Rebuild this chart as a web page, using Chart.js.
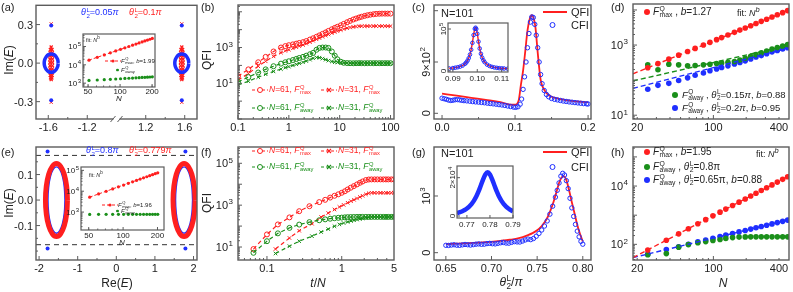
<!DOCTYPE html>
<html><head><meta charset="utf-8">
<script src="https://cdn.jsdelivr.net/npm/chart.js@4.4.1/dist/chart.umd.min.js"></script>
<style>
html,body{margin:0;padding:0;background:#fff}
body{width:793px;height:292px;position:relative;overflow:hidden;font-family:Arial,"Liberation Sans",sans-serif;color:#222}
canvas{position:absolute;left:0;top:0}
.t{position:absolute;white-space:nowrap;line-height:1}
.ss{display:inline-block;vertical-align:middle;font-size:0.68em;line-height:0.95;text-align:left;margin-left:0.5px}
.ss b{display:block;font-weight:normal}
</style></head><body>
<script>
// ---- data ----
// (a) eigenvalues, theta=0.05pi ring (blue) and 0.1pi bar (red)
const aRingLx = [-1.498, -1.5035, -1.519, -1.5424, -1.57, -1.5976, -1.621, -1.6365, -1.642, -1.6365, -1.621, -1.5976, -1.57, -1.5424, -1.519, -1.5035, -1.498];
const aRingRx = [1.642, 1.6365, 1.621, 1.5976, 1.57, 1.5424, 1.519, 1.5035, 1.498, 1.5035, 1.519, 1.5424, 1.57, 1.5976, 1.621, 1.6365, 1.642];
const aRingY = [0, 0.027, 0.05, 0.066, 0.071, 0.066, 0.05, 0.027, 0, -0.027, -0.05, -0.066, -0.071, -0.066, -0.05, -0.027, 0];
const aBarY = [0.125, 0.105, 0.105, 0.08, 0.08, 0.055, 0.055, 0.03, 0.03, 0.005, 0.005, -0.02, -0.02, -0.045, -0.045, -0.07, -0.07, -0.095, -0.095, -0.115, -0.115, -0.128];
const aBarLx = [-1.57, -1.578, -1.562, -1.581, -1.559, -1.582, -1.558, -1.582, -1.558, -1.582, -1.558, -1.582, -1.558, -1.582, -1.558, -1.581, -1.559, -1.579, -1.561, -1.576, -1.564, -1.57];
const aBarRx = [1.57, 1.562, 1.578, 1.559, 1.581, 1.558, 1.582, 1.558, 1.582, 1.558, 1.582, 1.558, 1.582, 1.558, 1.582, 1.559, 1.581, 1.561, 1.579, 1.564, 1.576, 1.57];
const aIsoX = [-1.57, -1.57, 1.57, 1.57];
const aIsoBy = [0.293, -0.29, 0.293, -0.29];
const aIsoRy = [0.306, -0.305, 0.306, -0.305];
// insets (a),(e): N scan
const insN = [51, 61, 71, 81, 91, 101, 111, 121, 131, 141, 151, 161, 171, 181, 191, 201];
const aInsMax = [18000, 25700, 34700, 45200, 56900, 70200, 84600, 100000, 118000, 136000, 156000, 177000, 200000, 223000, 248000, 275000];
const aInsAway = [1400, 1480, 1550, 1620, 1680, 1740, 1800, 1850, 1900, 1950, 2000, 2040, 2080, 2120, 2160, 2200];
const eInsMax = [5200, 7400, 9900, 12900, 16200, 19800, 23900, 28300, 33000, 38200, 43700, 49500, 55700, 62300, 69200, 76400];
const eInsAway = [770, 775, 780, 780, 778, 780, 782, 780, 781, 780, 780, 782, 780, 781, 780, 780];
// (b) QFI vs t
const tB = [0.1, 0.16, 0.25, 0.35, 0.5, 0.7, 0.85, 1, 1.2, 1.4, 1.6, 1.9, 2.2, 2.6, 3, 3.5, 4, 4.6, 5.3, 6, 7, 8, 9, 10.5, 12, 14, 16, 18.5, 21, 24, 27, 31, 35, 40, 46, 52, 60, 68, 78, 88, 100];
const b61max = [25, 60, 150, 300, 600, 1000, 1200, 1350, 1500, 1650, 1800, 2000, 2300, 2800, 3300, 4000, 4800, 5800, 7000, 8500, 10500, 12500, 14500, 17500, 21000, 26000, 31000, 37000, 42000, 48000, 53000, 59000, 64000, 69000, 73000, 76000, 78000, 79000, 79000, 79000, 79000];
const b31max = [15, 35, 90, 170, 320, 520, 650, 760, 900, 1050, 1200, 1400, 1650, 2000, 2400, 2900, 3400, 4000, 4700, 5400, 6400, 7400, 8300, 9600, 10800, 12200, 13300, 14300, 15000, 15500, 15700, 15800, 15800, 15800, 15800, 15800, 15800, 15800, 15800, 15800, 15800];
const b61away = [12, 22, 40, 60, 90, 125, 150, 170, 200, 230, 260, 300, 350, 420, 500, 750, 950, 1000, 1000, 950, 600, 350, 220, 160, 140, 135, 133, 132, 133, 134, 133, 132, 133, 134, 133, 133, 133, 133, 133, 133, 133];
const b31away = [8, 13, 22, 32, 46, 62, 75, 85, 100, 115, 130, 150, 175, 210, 250, 280, 270, 240, 210, 185, 165, 150, 145, 140, 138, 136, 135, 134, 134, 134, 134, 134, 134, 134, 134, 134, 134, 134, 134, 134, 134];
// (c) QFI / CFI vs theta
const cQx = [0, 0.02, 0.04, 0.06, 0.08, 0.095, 0.1, 0.105, 0.108, 0.111, 0.114, 0.117, 0.12, 0.123, 0.126, 0.128, 0.131, 0.135, 0.14, 0.145, 0.15, 0.16, 0.17, 0.18, 0.19, 0.2];
const cQy = [345, 310, 272, 235, 195, 150, 150, 230, 500, 750, 1090, 1450, 1650, 1720, 1640, 1500, 1070, 590, 410, 330, 290, 255, 232, 215, 203, 192];
const cCx = [0, 0.003, 0.006, 0.009, 0.012, 0.015, 0.018, 0.021, 0.024, 0.027, 0.03, 0.034, 0.038, 0.042, 0.046, 0.05, 0.054, 0.058, 0.062, 0.066, 0.07, 0.074, 0.078, 0.082, 0.086, 0.09, 0.094, 0.098, 0.101, 0.104, 0.107, 0.109, 0.111, 0.113, 0.115, 0.117, 0.119, 0.121, 0.123, 0.125, 0.127, 0.129, 0.131, 0.133, 0.135, 0.137, 0.14, 0.143, 0.146, 0.15, 0.154, 0.158, 0.162, 0.166, 0.17, 0.174, 0.178, 0.182, 0.186, 0.19, 0.194, 0.198, 0.2];
const cCy = [265, 255, 245, 232, 225, 230, 238, 240, 236, 228, 222, 218, 212, 205, 200, 196, 190, 185, 178, 172, 166, 160, 152, 146, 138, 128, 118, 108, 105, 115, 160, 250, 420, 640, 900, 1150, 1400, 1600, 1690, 1680, 1560, 1370, 1150, 900, 680, 520, 400, 330, 290, 260, 245, 235, 225, 215, 208, 200, 195, 188, 182, 176, 170, 166, 164];
const icX = [0.0885, 0.09, 0.091, 0.092, 0.093, 0.094, 0.095, 0.0955, 0.096, 0.0965, 0.097, 0.0975, 0.098, 0.0985, 0.099, 0.0993, 0.0996, 0.1, 0.1005, 0.101, 0.1015, 0.102, 0.1025, 0.103, 0.104, 0.105, 0.106, 0.107, 0.108, 0.109, 0.11, 0.111, 0.1125];
const icQ = [6400, 7200, 8000, 9200, 10800, 13300, 17500, 20600, 25000, 30900, 39400, 51000, 67300, 86000, 101000, 104000, 101000, 89500, 70500, 54000, 41500, 32300, 26000, 21400, 15600, 12200, 10000, 8700, 7700, 7000, 6500, 6100, 5600];
const icC = [6000, 6900, 7800, 9000, 10500, 13000, 17200, 20300, 24600, 30500, 39000, 50500, 67000, 85500, 100500, 103000, 100000, 88500, 70000, 53500, 41000, 32000, 25700, 21100, 15300, 12000, 9800, 8500, 7500, 6800, 6300, 5900, 5400];
// (d) scaling with N
const dN = [25, 31, 39, 48, 58, 68, 81, 93, 107, 119, 136, 156, 175, 196, 220, 246, 275, 308, 345, 386, 432, 480];
const dMax = [225, 296, 396, 515, 655, 802, 1000, 1193, 1426, 1632, 1933, 2303, 2666, 3077, 3565, 4105, 4732, 5461, 6310, 7278, 8395, 9600];
const dAway15 = [273, 198, 284, 273, 257, 261, 273, 285, 297, 309, 323, 340, 375, 420, 478, 535, 606, 675, 765, 845, 930, 1030];
const dAway20 = [55, 71, 81, 98, 116, 138, 160, 185, 207, 230, 255, 290, 320, 355, 400, 455, 500, 568, 640, 700, 770, 835];
const fitX = [18.3, 494];
const dFitMax = [151, 9950];
const dFitAway15 = [95, 990];
const dFitAway20 = [58, 830];
// (e) eigenvalues theta=0.8pi (blue) and 0.779pi (red)
const eRingLx = [-1.265, -1.287, -1.3485, -1.441, -1.55, -1.659, -1.7515, -1.813, -1.835, -1.813, -1.7515, -1.659, -1.55, -1.441, -1.3485, -1.287, -1.265];
const eRingRx = [2.04, 2.018, 1.9565, 1.864, 1.755, 1.646, 1.5535, 1.492, 1.47, 1.492, 1.5535, 1.646, 1.755, 1.864, 1.9565, 2.018, 2.04];
const eRingY = [0, 0.055, 0.101, 0.132, 0.143, 0.132, 0.101, 0.055, 0, -0.055, -0.101, -0.132, -0.143, -0.132, -0.101, -0.055, 0];
const eInLx = [-1.33, -1.347, -1.394, -1.466, -1.55, -1.634, -1.706, -1.753, -1.77, -1.753, -1.706, -1.634, -1.55, -1.466, -1.394, -1.347, -1.33];
const eInRx = [1.975, 1.958, 1.911, 1.839, 1.755, 1.671, 1.599, 1.552, 1.535, 1.552, 1.599, 1.671, 1.755, 1.839, 1.911, 1.958, 1.975];
const eInY = [0, 0.05, 0.092, 0.12, 0.13, 0.12, 0.092, 0.05, 0, -0.05, -0.092, -0.12, -0.13, -0.12, -0.092, -0.05, 0];
const eDotX = [-1.78, -1.78, 1.79, 1.79];
const eDotY = [0.19, -0.19, 0.19, -0.19];
const eDashX = [-2.08, 2.09];
const eDashHi = [0.175, 0.175];
const eDashLo = [-0.175, -0.175];
// (f) QFI vs t/N
const t61 = [0.066, 0.1, 0.14, 0.2, 0.27, 0.37, 0.5, 0.6, 0.7, 0.8, 0.9, 1, 1.1, 1.2, 1.32, 1.45, 1.6, 1.75, 1.9, 2.1, 2.3, 2.5, 2.75, 3, 3.3, 3.6, 3.9, 4.2, 4.6, 5];
const t31 = [0.13, 0.2, 0.27, 0.4, 0.53, 0.66, 0.8, 0.93, 1.06, 1.2, 1.33, 1.46, 1.6, 1.75, 1.9, 2.1, 2.3, 2.5, 2.75, 3, 3.3, 3.6, 3.9, 4.2, 4.6, 5];
const f61max = [8, 40, 120, 260, 515, 890, 1400, 1800, 2300, 2800, 3300, 3900, 4600, 5600, 6800, 8100, 9800, 11700, 13500, 15800, 16800, 17000, 17000, 17000, 17000, 17000, 17000, 17000, 17000, 17000];
const f31max = [8, 27, 60, 130, 270, 420, 620, 820, 1030, 1300, 1550, 1800, 2100, 2450, 2800, 3300, 3700, 3900, 3900, 3900, 3900, 3900, 3900, 3900, 3900, 3900];
const f61away = [5.3, 19, 45, 82, 118, 155, 190, 210, 225, 238, 248, 255, 262, 267, 270, 272, 274, 275, 275, 275, 275, 275, 275, 275, 275, 275, 275, 275, 275, 275];
const f31away = [4.9, 11, 19, 33, 52, 72, 98, 120, 140, 158, 175, 190, 205, 220, 235, 250, 262, 270, 274, 275, 275, 275, 275, 275, 275, 275];
// (g) QFI / CFI vs theta
const gQx = [0.65, 0.67, 0.69, 0.71, 0.72, 0.73, 0.74, 0.745, 0.75, 0.755, 0.76, 0.764, 0.768, 0.771, 0.774, 0.777, 0.779, 0.782, 0.785, 0.788, 0.791, 0.794, 0.797, 0.8];
const gQy = [150, 165, 182, 210, 228, 255, 310, 345, 395, 470, 580, 720, 900, 1060, 1230, 1330, 1350, 1280, 1100, 890, 690, 490, 330, 200];
const gCx = [0.65, 0.653, 0.656, 0.659, 0.662, 0.665, 0.668, 0.671, 0.674, 0.677, 0.68, 0.683, 0.686, 0.689, 0.692, 0.695, 0.698, 0.701, 0.704, 0.707, 0.71, 0.713, 0.716, 0.719, 0.722, 0.725, 0.728, 0.731, 0.734, 0.737, 0.74, 0.743, 0.746, 0.749, 0.752, 0.755, 0.758, 0.761, 0.764, 0.767, 0.77, 0.772, 0.774, 0.776, 0.778, 0.78, 0.782, 0.784, 0.786, 0.788, 0.79, 0.792, 0.794, 0.796, 0.798, 0.8];
const gCy = [130, 128, 135, 140, 132, 130, 138, 145, 140, 135, 142, 150, 155, 148, 150, 160, 165, 158, 155, 165, 175, 180, 170, 168, 182, 195, 190, 188, 205, 225, 240, 230, 250, 290, 340, 400, 470, 560, 680, 820, 980, 1100, 1230, 1350, 1400, 1370, 1270, 1130, 960, 790, 640, 500, 380, 280, 200, 150];
const igX = [0.7657, 0.767, 0.768, 0.769, 0.77, 0.771, 0.772, 0.773, 0.774, 0.775, 0.776, 0.777, 0.778, 0.779, 0.78, 0.781, 0.782, 0.783, 0.784, 0.785, 0.786, 0.787, 0.788, 0.789, 0.79];
const igQ = [1500, 2000, 2500, 3100, 3900, 4900, 6200, 7900, 10000, 12700, 15800, 19000, 21700, 22800, 21700, 19000, 15800, 12700, 10000, 7900, 6200, 4900, 3900, 3100, 2500];
// (h) scaling with N
const hN = [25, 37, 48, 59, 72, 85, 99, 115, 130, 150, 172, 196, 220, 246, 275, 308, 345, 386, 432, 480];
const hMax = [64, 138, 229, 344, 508, 703, 948, 1273, 1618, 2142, 2801, 3615, 4538, 5636, 7031, 8776, 10940, 13650, 17020, 20940];
const hAway80 = [44, 48, 80, 98, 113, 124, 135, 147, 160, 170, 177, 180, 181, 181, 181, 181, 181, 181, 181, 181];
const hAway65 = [46, 66, 83, 101, 121, 140, 161, 185, 207, 235, 267, 300, 333, 369, 408, 453, 502, 556, 615, 678];
const hFitMax = [35, 22100];
const hFitAway65 = [35, 695];

// ---- helpers ----
const W = 793, H = 292;
const RED = '#ff1f1f', BLUE = '#1f2fff', GREEN = '#1a8f1a', FRAME = '#5c5c5c';
const brk = v => (v < 0 ? v + 0.9 : v - 0.9); // broken x axis of (a)

function pts(xs, ys) { return xs.map((x, i) => ({ x: x, y: ys[i] })); }
function logMinors(lo, hi) {
  const out = [];
  for (let e = -3; e <= 6; e++) for (let k = 2; k <= 9; k++) {
    const v = k * Math.pow(10, e);
    if (v > lo && v < hi) out.push(v);
  }
  return out;
}
function decades(lo, hi) {
  const out = [];
  for (let e = -3; e <= 6; e++) { const v = Math.pow(10, e); if (v >= lo && v <= hi) out.push(v); }
  return out;
}
const openC = c => ({ pointStyle: 'circle', pointRadius: 2.5, pointBackgroundColor: 'rgba(0,0,0,0)', pointBorderColor: c, pointBorderWidth: 1 });
const crossC = c => ({ pointStyle: 'crossRot', pointRadius: 2.5, pointBorderColor: c, pointBorderWidth: 1 });
const dotC = (c, r) => ({ pointStyle: 'circle', pointRadius: r || 2.5, pointBackgroundColor: c, pointBorderColor: c, pointBorderWidth: 0 });
const lineC = (c, w, dash) => ({ showLine: true, borderColor: c, borderWidth: w, borderDash: dash || [] });

function drawLab(ctx, s, x, y, fs, mode) {
  const parts = s.split('^');
  const base = parts[0], sup = parts[1] || '';
  const sf = Math.round(fs * 0.7);
  ctx.font = fs + 'px Arial';
  const wb = ctx.measureText(base).width;
  ctx.font = sf + 'px Arial';
  const ws = sup ? ctx.measureText(sup).width + 0.5 : 0;
  const w = wb + ws;
  let x0, yb;
  if (mode === 'top') { x0 = x - w / 2; yb = y + fs * 0.8; }
  else if (mode === 'right') { x0 = x - w; yb = y + fs * 0.36; }
  else { x0 = x - w / 2; yb = y + fs * 0.36; }
  ctx.textAlign = 'left';
  ctx.textBaseline = 'alphabetic';
  ctx.font = fs + 'px Arial';
  ctx.fillText(base, x0, yb);
  if (sup) { ctx.font = sf + 'px Arial'; ctx.fillText(sup, x0 + wb + 0.5, yb - fs * 0.42); }
}

const decoPlugin = {
  id: 'deco',
  beforeDatasetsDraw(chart, args, o) {
    if (!o.white) return;
    const a = chart.chartArea, ctx = chart.ctx;
    ctx.save();
    ctx.fillStyle = '#fff';
    ctx.fillRect(a.left, a.top, a.right - a.left, a.bottom - a.top);
    ctx.restore();
  },
  afterDatasetsDraw(chart, args, o) {
    const ctx = chart.ctx, a = chart.chartArea;
    const sx = chart.scales.x, sy = chart.scales.y;
    const L = o.tick || 4;
    ctx.save();
    ctx.strokeStyle = FRAME;
    ctx.lineWidth = 1;
    ctx.beginPath();
    (o.xt || []).forEach(v => { const p = sx.getPixelForValue(v); ctx.moveTo(p, a.bottom); ctx.lineTo(p, a.bottom - L); });
    (o.xm || []).forEach(v => { const p = sx.getPixelForValue(v); ctx.moveTo(p, a.bottom); ctx.lineTo(p, a.bottom - L / 2); });
    (o.yt || []).forEach(v => { const p = sy.getPixelForValue(v); ctx.moveTo(a.left, p); ctx.lineTo(a.left + L, p); });
    (o.ym || []).forEach(v => { const p = sy.getPixelForValue(v); ctx.moveTo(a.left, p); ctx.lineTo(a.left + L / 2, p); });
    ctx.stroke();
    ctx.lineWidth = o.lw || 1.4;
    ctx.strokeRect(a.left, a.top, a.right - a.left, a.bottom - a.top);
    if (o.brk !== undefined) {
      const cx = (a.left + a.right) / 2;
      ctx.fillStyle = '#fff';
      ctx.fillRect(cx - 3, a.bottom - 2, 6, 4);
      ctx.lineWidth = 1;
      ctx.beginPath();
      ctx.moveTo(cx - 6, a.bottom + 3); ctx.lineTo(cx - 1, a.bottom - 3);
      ctx.moveTo(cx + 1, a.bottom + 3); ctx.lineTo(cx + 6, a.bottom - 3);
      ctx.stroke();
    }
    ctx.fillStyle = '#222';
    const fs = o.fs || 11;
    (o.xl || []).forEach(l => drawLab(ctx, l[1], sx.getPixelForValue(l[0]), a.bottom + (o.xpad === undefined ? 3 : o.xpad), fs, 'top'));
    (o.yl || []).forEach(l => drawLab(ctx, l[1], a.left - (o.ypad || 3), sy.getPixelForValue(l[0]), fs, 'right'));
    (o.yr || []).forEach(l => {
      ctx.save();
      ctx.translate(a.left - (o.rpad || 7), sy.getPixelForValue(l[0]));
      ctx.rotate(-Math.PI / 2);
      drawLab(ctx, l[1], 0, 0, fs, 'mid');
      ctx.restore();
    });
    ctx.restore();
  }
};

function makeChart(box, xs, ys, datasets, deco) {
  const c = document.createElement('canvas');
  c.width = W; c.height = H;
  c.style.width = W + 'px'; c.style.height = H + 'px';
  document.body.appendChild(c);
  return new Chart(c, {
    type: 'scatter',
    data: { datasets: datasets },
    options: {
      responsive: false, animation: false, devicePixelRatio: 1,
      layout: { padding: { left: box[0], top: box[1], right: W - box[2], bottom: H - box[3] } },
      scales: { x: Object.assign({ display: false }, xs), y: Object.assign({ display: false }, ys) },
      plugins: { legend: { display: false }, tooltip: { enabled: false }, deco: deco }
    },
    plugins: [decoPlugin]
  });
}

// ---- (a) ----
makeChart([36, 1, 197, 119], { type: 'linear', min: -0.826, max: 0.826 }, { min: -0.435, max: 0.45 }, [
  Object.assign({ data: pts(aRingLx.map(brk), aRingY), pointRadius: 0, tension: 0.4 }, lineC(BLUE, 3.5)),
  Object.assign({ data: pts(aRingRx.map(brk), aRingY), pointRadius: 0, tension: 0.4 }, lineC(BLUE, 3.5)),
  Object.assign({ data: pts(aBarLx.map(brk), aBarY) }, crossC(RED), { pointRadius: 2.2, pointBorderWidth: 1.3 }),
  Object.assign({ data: pts(aBarRx.map(brk), aBarY) }, crossC(RED), { pointRadius: 2.2, pointBorderWidth: 1.3 }),
  Object.assign({ data: pts(aIsoX.map(brk), aIsoBy) }, dotC(BLUE, 2)),
  Object.assign({ data: pts(aIsoX.map(brk), aIsoRy) }, crossC(RED), { pointRadius: 2.2 })
], {
  xt: [-1.6, -1.2, 1.2, 1.6].map(brk), xm: [-1.4, 1.4].map(brk),
  xl: [[brk(-1.6), '-1.6'], [brk(-1.2), '-1.2'], [brk(1.2), '1.2'], [brk(1.6), '1.6']],
  yt: [-0.3, 0, 0.3], ym: [-0.15, 0.15],
  yl: [[0.3, '0.3'], [0, '0.0'], [-0.3, '-0.3']], brk: 0
});
// inset (a)
makeChart([83, 34, 155, 87], { type: 'logarithmic', min: 44.8, max: 213 }, { type: 'logarithmic', min: 616, max: 480000 }, [
  Object.assign({ data: pts(insN, aInsMax) }, lineC(RED, 1, [3, 2]), dotC(RED, 1.6)),
  Object.assign({ data: pts(insN, aInsAway) }, dotC(GREEN, 1.6))
], {
  white: true, fs: 8, tick: 3, lw: 1.2, xpad: 1, ypad: 2,
  xt: [50, 100, 200], xm: logMinors(44.8, 213),
  xl: [[50, '50'], [100, '100'], [200, '200']],
  yt: decades(616, 480000), ym: logMinors(616, 480000),
  yl: [[1e5, '10^5'], [1e4, '10^4'], [1e3, '10^3']]
});

// ---- (b) ----
makeChart([238, 1, 394, 119], { type: 'logarithmic', min: 0.1, max: 117 }, { type: 'logarithmic', min: 0.1, max: 240000 }, [
  Object.assign({ data: pts(tB, b31away) }, lineC(GREEN, 1.2, [4, 3]), crossC(GREEN)),
  Object.assign({ data: pts(tB, b61away) }, lineC(GREEN, 1.2, [4, 3]), openC(GREEN)),
  Object.assign({ data: pts(tB, b31max) }, lineC(RED, 1.2, [4, 3]), crossC(RED)),
  Object.assign({ data: pts(tB, b61max) }, lineC(RED, 1.2, [4, 3]), openC(RED))
], {
  xt: decades(0.1, 117), xm: logMinors(0.1, 117),
  xl: [[0.1, '0.1'], [1, '1'], [10, '10'], [100, '100']],
  yt: decades(0.1, 240000), ym: logMinors(0.1, 240000),
  yl: [[10, '10^1'], [1000, '10^3']], ypad: 5
});

// ---- (c) ----
makeChart([434, 1, 591, 119], { type: 'linear', min: -0.011, max: 0.204 }, { min: -100, max: 1900 }, [
  Object.assign({ data: pts(cCx, cCy) }, openC(BLUE), { pointRadius: 2.2 }),
  Object.assign({ data: pts(cQx, cQy), pointRadius: 0, cubicInterpolationMode: 'monotone' }, lineC(RED, 1.8))
], {
  xt: [0, 0.1, 0.2], xm: [0.05, 0.15],
  xl: [[0, '0.0'], [0.1, '0.1'], [0.2, '0.2']],
  yt: [0, 900, 1800], yr: [[0, '0'], [900, '9×10^2']], rpad: 8
});
// inset (c)
makeChart([448, 23, 508, 72], { type: 'linear', min: 0.088, max: 0.1126 }, { min: -2400, max: 114300 }, [
  Object.assign({ data: pts(icX, icC) }, openC(BLUE), { pointRadius: 1.8 }),
  Object.assign({ data: pts(icX, icQ), pointRadius: 0, cubicInterpolationMode: 'monotone' }, lineC(RED, 1.4))
], {
  white: true, fs: 8, tick: 3, lw: 1.2, xpad: 3, rpad: 5,
  xt: [0.09, 0.1, 0.11], xl: [[0.09, '0.09'], [0.1, '0.10'], [0.11, '0.11']],
  yt: [0, 100000], yr: [[0, '0'], [100000, '10^5']]
});

// ---- (d) ----
makeChart([633, 1, 792, 119], { type: 'logarithmic', min: 18.3, max: 494 }, { type: 'logarithmic', min: 7.8, max: 14800 }, [
  Object.assign({ data: pts(fitX, dFitMax), pointRadius: 0 }, lineC(RED, 1.4, [5, 3])),
  Object.assign({ data: pts(fitX, dFitAway15), pointRadius: 0 }, lineC(GREEN, 1.4, [5, 3])),
  Object.assign({ data: pts(fitX, dFitAway20), pointRadius: 0 }, lineC(BLUE, 1.4, [5, 3])),
  Object.assign({ data: pts(dN, dMax) }, dotC(RED, 2.8)),
  Object.assign({ data: pts(dN, dAway15) }, dotC(GREEN, 2.8)),
  Object.assign({ data: pts(dN, dAway20) }, dotC(BLUE, 2.8))
], {
  xt: [100], xm: logMinors(18.3, 494),
  xl: [[20, '20'], [100, '100'], [400, '400']],
  yt: decades(7.8, 14800), ym: logMinors(7.8, 14800),
  yl: [[10, '10^1'], [1000, '10^3']], ypad: 5
});

// ---- (e) ----
makeChart([36, 147, 197, 260], { type: 'linear', min: -2.08, max: 2.09 }, { min: -0.235, max: 0.208 }, [
  Object.assign({ data: pts(eDashX, eDashHi), pointRadius: 0 }, lineC('#333', 1, [5, 4])),
  Object.assign({ data: pts(eDashX, eDashLo), pointRadius: 0 }, lineC('#333', 1, [5, 4])),
  Object.assign({ data: pts(eRingLx, eRingY), pointRadius: 0, tension: 0.4 }, lineC(RED, 5)),
  Object.assign({ data: pts(eRingRx, eRingY), pointRadius: 0, tension: 0.4 }, lineC(RED, 5)),
  Object.assign({ data: pts(eInLx, eInY), pointRadius: 0, tension: 0.4 }, lineC(BLUE, 1.4)),
  Object.assign({ data: pts(eInRx, eInY), pointRadius: 0, tension: 0.4 }, lineC(BLUE, 1.4)),
  Object.assign({ data: pts(eDotX, eDotY) }, dotC(BLUE, 2))
], {
  xt: [-2, -1, 0, 1, 2], xm: [-1.5, -0.5, 0.5, 1.5],
  xl: [[-2, '-2'], [-1, '-1'], [0, '0'], [1, '1'], [2, '2']],
  yt: [-0.1, 0, 0.1], ym: [-0.2, -0.05, 0.05, 0.15, -0.15],
  yl: [[0.1, '0.1'], [0, '0.0'], [-0.1, '-0.1']]
});
// inset (e)
makeChart([81, 167, 164, 230], { type: 'logarithmic', min: 42.8, max: 228 }, { type: 'logarithmic', min: 138, max: 145000 }, [
  Object.assign({ data: pts(insN, eInsMax) }, lineC(RED, 1, [3, 2]), dotC(RED, 1.6)),
  Object.assign({ data: pts(insN, eInsAway) }, dotC(GREEN, 1.6))
], {
  white: true, fs: 8, tick: 3, lw: 1.2, xpad: 2, ypad: 2,
  xt: [50, 100, 200], xm: logMinors(42.8, 228),
  xl: [[50, '50'], [100, '100'], [200, '200']],
  yt: decades(138, 145000), ym: logMinors(138, 145000),
  yl: [[1e5, '10^5'], [1e4, '10^4'], [1e3, '10^3']]
});

// ---- (f) ----
makeChart([238, 147, 394, 260], { type: 'logarithmic', min: 0.041, max: 5 }, { type: 'logarithmic', min: 2.4, max: 600000 }, [
  Object.assign({ data: pts(t31, f31away) }, lineC(GREEN, 1.2, [4, 3]), crossC(GREEN)),
  Object.assign({ data: pts(t61, f61away) }, lineC(GREEN, 1.2, [4, 3]), openC(GREEN)),
  Object.assign({ data: pts(t31, f31max) }, lineC(RED, 1.2, [4, 3]), crossC(RED)),
  Object.assign({ data: pts(t61, f61max) }, lineC(RED, 1.2, [4, 3]), openC(RED))
], {
  xt: decades(0.041, 5), xm: logMinors(0.041, 5),
  xl: [[0.1, '0.1'], [1, '1'], [5, '5']],
  yt: decades(2.4, 600000), ym: logMinors(2.4, 600000),
  yl: [[10, '10^1'], [1000, '10^3'], [100000, '10^5']], ypad: 5
});

// ---- (g) ----
makeChart([434, 147, 591, 260], { type: 'linear', min: 0.637, max: 0.809 }, { min: -129, max: 1864 }, [
  Object.assign({ data: pts(gCx, gCy) }, openC(BLUE), { pointRadius: 2.2 }),
  Object.assign({ data: pts(gQx, gQy), pointRadius: 0, cubicInterpolationMode: 'monotone' }, lineC(RED, 1.8))
], {
  xt: [0.65, 0.7, 0.75, 0.8],
  xl: [[0.65, '0.65'], [0.7, '0.70'], [0.75, '0.75'], [0.8, '0.80']],
  yt: [0, 1000], yr: [[0, '0'], [1000, '10^3']], rpad: 8
});
// inset (g)
makeChart([457, 166, 513, 218], { type: 'linear', min: 0.7657, max: 0.79 }, { min: -1044, max: 26100 }, [
  Object.assign({ data: pts(igX, igQ), pointRadius: 0, cubicInterpolationMode: 'monotone' }, lineC(BLUE, 4.5)),
  Object.assign({ data: pts(igX, igQ), pointRadius: 0, cubicInterpolationMode: 'monotone' }, lineC(RED, 1.2))
], {
  white: true, fs: 8, tick: 3, lw: 1.2, xpad: 3, rpad: 5,
  xt: [0.77, 0.78, 0.79], xl: [[0.77, '0.77'], [0.78, '0.78'], [0.79, '0.79']],
  yt: [0, 20000], yr: [[0, '0'], [20000, '2×10^4']]
});

// ---- (h) ----
makeChart([633, 147, 792, 260], { type: 'logarithmic', min: 18.3, max: 494 }, { type: 'logarithmic', min: 29, max: 219000 }, [
  Object.assign({ data: pts(fitX, hFitMax), pointRadius: 0 }, lineC(RED, 1.4, [5, 3])),
  Object.assign({ data: pts(fitX, hFitAway65), pointRadius: 0 }, lineC(BLUE, 1.4, [5, 3])),
  Object.assign({ data: pts(hN, hMax) }, dotC(RED, 2.8)),
  Object.assign({ data: pts(hN, hAway80) }, dotC(GREEN, 2.8)),
  Object.assign({ data: pts(hN, hAway65) }, dotC(BLUE, 2.8))
], {
  xt: [100], xm: logMinors(18.3, 494),
  xl: [[20, '20'], [100, '100'], [400, '400']],
  yt: decades(29, 219000), ym: logMinors(29, 219000),
  yl: [[100, '10^2'], [10000, '10^4']], ypad: 5
});

// ---- text: labels, titles, legends ----
function txt(html, x, y, size, anchor, color, rot) {
  const d = document.createElement('div');
  d.className = 't';
  d.innerHTML = html;
  d.style.left = x + 'px';
  d.style.top = y + 'px';
  d.style.fontSize = size + 'px';
  if (color) d.style.color = color;
  const tx = anchor === 'c' ? '-50%' : anchor === 'r' ? '-100%' : '0';
  d.style.transform = 'translate(' + tx + ',-50%)' + (rot ? ' rotate(-90deg)' : '');
  document.body.appendChild(d);
}
const FQ = s => '<i>F</i><span class="ss"><b>Q</b><b>' + s + '</b></span>';
const TH = '<i>θ</i><span class="ss"><b>L</b><b>2</b></span>';
function sample(color, mk) {
  let m = '';
  if (mk === 'o') m = '<circle cx="8" cy="4" r="2.5" fill="#fff" stroke="' + color + '" stroke-width="1"/>';
  if (mk === 'x') m = '<path d="M6,2L10,6M10,2L6,6" stroke="' + color + '" stroke-width="1.1"/>';
  if (mk === 'd') m = '<circle cx="8" cy="4" r="1.6" fill="' + color + '"/>';
  return '<svg width="16" height="8" style="display:block"><line x1="0" y1="4" x2="16" y2="4" stroke="' + color + '" stroke-width="1.2" stroke-dasharray="3,2"/>' + m + '</svg>';
}
const dot = (c, r) => '<svg width="' + (2 * r) + '" height="' + (2 * r) + '" style="display:block"><circle cx="' + r + '" cy="' + r + '" r="' + r + '" fill="' + c + '"/></svg>';

// panel letters
[['(a)', 1, 7], ['(b)', 201, 7], ['(c)', 412, 7], ['(d)', 611, 7], ['(e)', 1, 152], ['(f)', 201, 152], ['(g)', 412, 152], ['(h)', 611, 152]]
  .forEach(p => txt(p[0], p[1], p[2], 11, 'l'));
// axis titles
txt('Im(<i>E</i>)', 9, 60, 12, 'c', null, true);
txt('QFI', 207, 60, 12, 'c', null, true);
txt('Im(<i>E</i>)', 9, 203, 12, 'c', null, true);
txt('QFI', 207, 203, 12, 'c', null, true);
txt('Re(<i>E</i>)', 117, 283, 12, 'c');
txt('<i>t</i>/<i>N</i>', 318, 283, 12, 'c');
txt(TH + '/<i>π</i>', 511, 283, 12, 'c');
txt('<i>N</i>', 723, 283, 12, 'c');

// (a) legend + inset
txt(TH + '=0.05<i>π</i>', 81, 13, 9, 'l', BLUE);
txt(TH + '=0.1<i>π</i>', 129, 13, 9, 'l', RED);
txt('fit: <i>N</i><sup>b</sup>', 86, 40, 5.5, 'l');
txt(sample(RED, 'd'), 105, 61, 6, 'l');
txt(FQ('max') + ', <i>b</i>=1.99', 121, 61, 6, 'l');
txt(dot(GREEN, 1.5), 116, 70, 6, 'l');
txt(FQ('away'), 121, 70, 6, 'l');
txt('<i>N</i>', 119, 99, 8, 'c');

// (b) legend
txt(sample(RED, 'o'), 252, 90, 8, 'l');
txt('<i>N</i>=61, ' + FQ('max'), 269, 90, 8.5, 'l', RED);
txt(sample(RED, 'x'), 321, 90, 8, 'l');
txt('<i>N</i>=31, ' + FQ('max'), 338, 90, 8.5, 'l', RED);
txt(sample(GREEN, 'o'), 252, 108, 8, 'l');
txt('<i>N</i>=61, ' + FQ('away'), 269, 108, 8.5, 'l', GREEN);
txt(sample(GREEN, 'x'), 321, 108, 8, 'l');
txt('<i>N</i>=31, ' + FQ('away'), 338, 108, 8.5, 'l', GREEN);

// (c) legend
txt('N=101', 441, 13, 11, 'l');
txt('<svg width="24" height="4" style="display:block"><line x1="0" y1="2" x2="24" y2="2" stroke="' + RED + '" stroke-width="2"/></svg>', 543, 12, 8, 'l');
txt('QFI', 571, 12, 11, 'l');
txt('<svg width="7" height="7" style="display:block"><circle cx="3.5" cy="3.5" r="2.5" fill="none" stroke="' + BLUE + '"/></svg>', 549, 25, 8, 'l');
txt('CFI', 571, 25, 11, 'l');

// (d) legend
txt(dot(RED, 3), 644, 12, 8, 'l');
txt(FQ('max') + ' , <i>b</i>=1.27', 653, 12, 10, 'l');
txt('fit: <i>N</i><sup><i>b</i></sup>', 737, 12, 9, 'l');
txt(dot(GREEN, 3), 672, 95, 8, 'l');
txt(FQ('away') + ' , ' + TH + '=0.15<i>π</i>, <i>b</i>=0.88', 682, 95, 9.5, 'l');
txt(dot(BLUE, 3), 672, 108, 8, 'l');
txt(FQ('away') + ' , ' + TH + '=0.2<i>π</i>, <i>b</i>=0.95', 682, 108, 9.5, 'l');

// (e) legend + inset
txt(TH + '=0.8<i>π</i>', 86, 151, 9, 'l', BLUE);
txt(TH + '=0.779<i>π</i>', 129, 151, 9, 'l', RED);
txt('fit: <i>N</i><sup>b</sup>', 89, 175, 5.5, 'l');
txt(sample(RED, 'd'), 102, 205, 6, 'l');
txt(FQ('max') + ', <i>b</i>=1.96', 118, 205, 6, 'l');
txt(dot(GREEN, 1.5), 116, 211, 6, 'l');
txt(FQ('away'), 121, 211, 6, 'l');
txt('<i>N</i>', 122, 243, 8, 'c');

// (f) legend
txt(sample(RED, 'o'), 252, 151, 8, 'l');
txt('<i>N</i>=61, ' + FQ('max'), 269, 151, 8.5, 'l', RED);
txt(sample(RED, 'x'), 321, 151, 8, 'l');
txt('<i>N</i>=31, ' + FQ('max'), 338, 151, 8.5, 'l', RED);
txt(sample(GREEN, 'o'), 252, 167, 8, 'l');
txt('<i>N</i>=61, ' + FQ('away'), 269, 167, 8.5, 'l', GREEN);
txt(sample(GREEN, 'x'), 321, 167, 8, 'l');
txt('<i>N</i>=31, ' + FQ('away'), 338, 167, 8.5, 'l', GREEN);

// (g) legend
txt('N=101', 441, 153, 11, 'l');
txt('<svg width="24" height="4" style="display:block"><line x1="0" y1="2" x2="24" y2="2" stroke="' + RED + '" stroke-width="2"/></svg>', 543, 152, 8, 'l');
txt('QFI', 571, 152, 11, 'l');
txt('<svg width="7" height="7" style="display:block"><circle cx="3.5" cy="3.5" r="2.5" fill="none" stroke="' + BLUE + '"/></svg>', 549, 167, 8, 'l');
txt('CFI', 571, 167, 11, 'l');

// (h) legend
txt(dot(RED, 3), 644, 152, 8, 'l');
txt(FQ('max') + ' , <i>b</i>=1.95', 653, 152, 10, 'l');
txt('fit: <i>N</i><sup><i>b</i></sup>', 756, 153, 9, 'l');
txt(dot(GREEN, 3), 644, 167, 8, 'l');
txt(FQ('away') + ' , ' + TH + '=0.8π', 653, 167, 10, 'l');
txt(dot(BLUE, 3), 644, 180, 8, 'l');
txt(FQ('away') + ' , ' + TH + '=0.65π, <i>b</i>=0.88', 653, 180, 10, 'l');
</script>
</body></html>
